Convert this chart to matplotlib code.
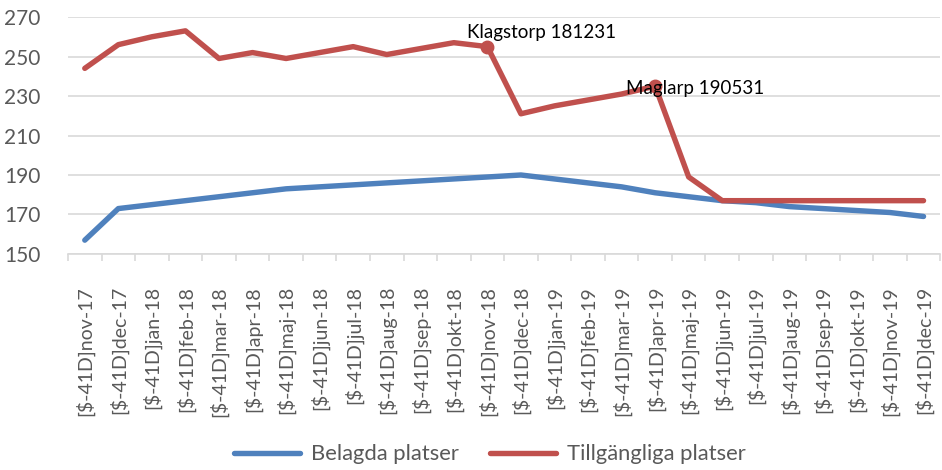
import matplotlib
matplotlib.use('Agg')
import matplotlib.pyplot as plt
from matplotlib.ticker import FixedLocator

# ─── data ─────────────────────────────────────────────────────────────────────
months = ["nov-17", "dec-17", "jan-18", "feb-18", "mar-18", "apr-18", "maj-18",
          "jun-18", "jul-18", "aug-18", "sep-18", "okt-18", "nov-18", "dec-18",
          "jan-19", "feb-19", "mar-19", "apr-19", "maj-19", "jun-19", "jul-19",
          "aug-19", "sep-19", "okt-19", "nov-19", "dec-19"]
tick_labels = ["[$-41D]" + m for m in months]

belagda = [157, 173, 175, 177, 179, 181, 183, 184, 185, 186, 187, 188, 189,
           190, 188, 186, 184, 181, 179, 177, 176, 174, 173, 172, 171, 169]
tillgangliga = [244, 256, 260, 263, 249, 252, 249, 252, 255, 251, 254, 257, 255,
                221, 225, 228, 231, 235, 189, 177, 177, 177, 177, 177, 177, 177]

# annotated points: (month index, label)
notes = [(12, "Klagstorp 181231"), (17, "Maglarp 190531")]

y_ticks = [150, 170, 190, 210, 230, 250, 270]
# ──────────────────────────────────────────────────────────────────────────────

BLUE = "#4F81BD"
RED = "#C0504D"
plt.rcParams['font.family'] = ['Lato', 'DejaVu Sans']

fig = plt.figure(figsize=(9.42, 4.70), dpi=100)
ax = fig.add_axes([0.0722, 0.4596, 0.926, 0.5042])

x = list(range(len(months)))
ax.plot(x, belagda, color=BLUE, linewidth=3.9, solid_capstyle="round",
        solid_joinstyle="round", label="Belagda platser", zorder=3)
ax.plot(x, tillgangliga, color=RED, linewidth=3.9, solid_capstyle="round",
        solid_joinstyle="round", label="Tillgängliga platser", zorder=3)

for i, txt in notes:
    ax.plot(i, tillgangliga[i], "o", color=RED, markersize=9, zorder=4)

# labels sit up-left of their points
ax.text(notes[0][0] - 0.6, tillgangliga[notes[0][0]] + 7, notes[0][1], fontsize=13.5,
        color="black", ha="left", va="center", zorder=5)
ax.text(notes[1][0] - 0.86, tillgangliga[notes[1][0]] - 1, notes[1][1], fontsize=13.5,
        color="black", ha="left", va="center", zorder=5)

ax.set_xlim(-0.5, len(months) - 0.5)
ax.set_ylim(150, 270)
ax.set_yticks(y_ticks)
ax.yaxis.grid(True, color="#D9D9D9", linewidth=1.2, zorder=0)
ax.set_axisbelow(True)

ax.set_xticks(x)
ax.set_xticklabels(tick_labels, rotation=90, fontsize=14, color="#595959")
ax.xaxis.set_minor_locator(FixedLocator([i - 0.5 for i in range(len(months) + 1)]))
ax.tick_params(axis="x", which="major", length=0, pad=23)
ax.tick_params(axis="x", which="minor", length=5, color="#D9D9D9", width=1.2)
ax.tick_params(axis="y", length=0, labelsize=15, colors="#595959", pad=20)

for s in ["top", "right", "left"]:
    ax.spines[s].set_visible(False)
ax.spines["bottom"].set_color("#D9D9D9")
ax.spines["bottom"].set_linewidth(1.2)

fig.legend(loc="lower center", bbox_to_anchor=(0.52, -0.03), ncol=2, frameon=False,
           fontsize=15.8, handlelength=3.0, handletextpad=0.5, columnspacing=1.4,
           labelcolor="#595959")

plt.savefig("out.png", dpi=100)
plt.close()
